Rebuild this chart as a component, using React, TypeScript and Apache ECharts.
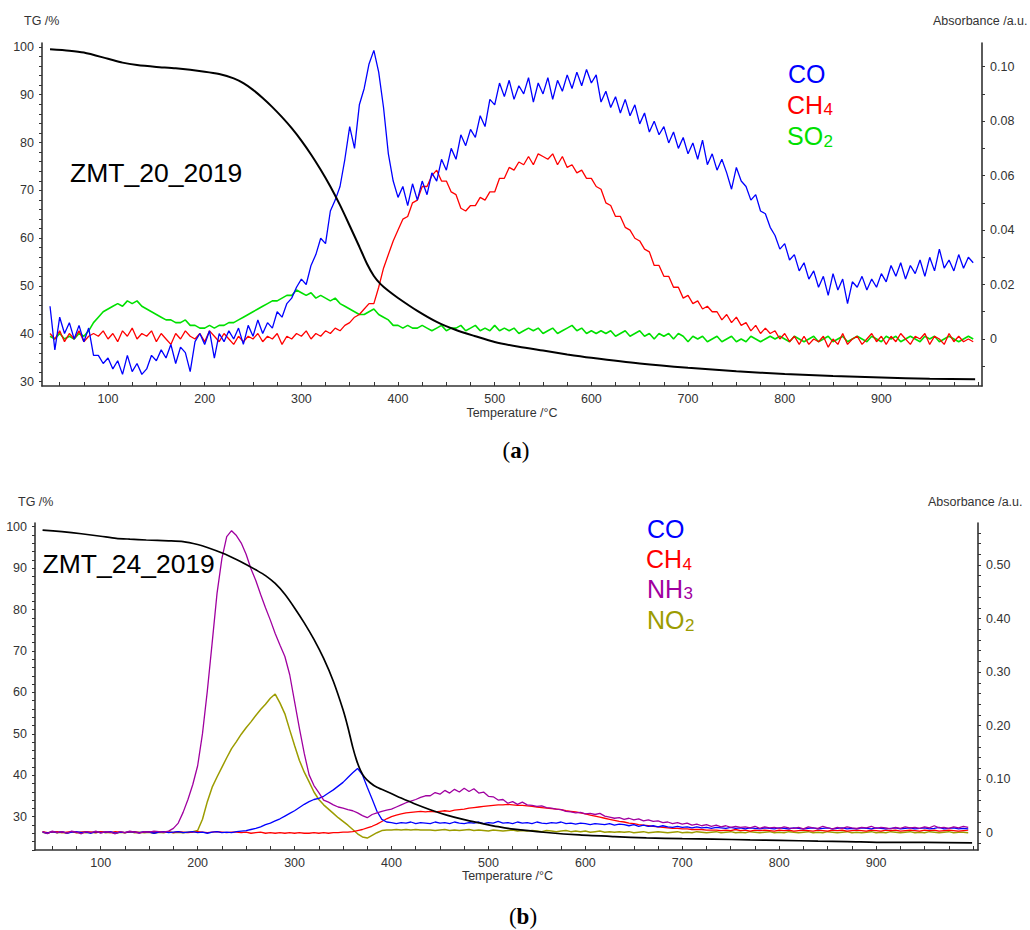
import React, { useEffect, useRef } from "react";
import * as echarts from "echarts";

// ---------- shared temperature grid (°C) ----------
const temps = [
  40, 45, 50, 55, 60, 65, 70, 75, 80, 85,
  90, 95, 100, 105, 110, 115, 120, 125, 130, 135,
  140, 145, 150, 155, 160, 165, 170, 175, 180, 185,
  190, 195, 200, 205, 210, 215, 220, 225, 230, 235,
  240, 245, 250, 255, 260, 265, 270, 275, 280, 285,
  290, 295, 300, 305, 310, 315, 320, 325, 330, 335,
  340, 345, 350, 355, 360, 365, 370, 375, 380, 385,
  390, 395, 400, 405, 410, 415, 420, 425, 430, 435,
  440, 445, 450, 455, 460, 465, 470, 475, 480, 485,
  490, 495, 500, 505, 510, 515, 520, 525, 530, 535,
  540, 545, 550, 555, 560, 565, 570, 575, 580, 585,
  590, 595, 600, 605, 610, 615, 620, 625, 630, 635,
  640, 645, 650, 655, 660, 665, 670, 675, 680, 685,
  690, 695, 700, 705, 710, 715, 720, 725, 730, 735,
  740, 745, 750, 755, 760, 765, 770, 775, 780, 785,
  790, 795, 800, 805, 810, 815, 820, 825, 830, 835,
  840, 845, 850, 855, 860, 865, 870, 875, 880, 885,
  890, 895, 900, 905, 910, 915, 920, 925, 930, 935,
  940, 945, 950, 955, 960, 965, 970, 975, 980, 985,
  990, 995,
];

// ---------- panel (a) ZMT_20_2019 ----------
const tgA = [
  [40, 99.5], [60, 99.2], [75, 98.8], [100, 97.5], [115, 96.7], [130, 96.2], [150, 95.8],
  [170, 95.5], [200, 94.8], [215, 94.3], [230, 93.4], [240, 92.4], [250, 91.0], [260, 89.3],
  [270, 87.4], [280, 85.3], [290, 83.0], [300, 80.4], [310, 77.5], [320, 74.3], [330, 70.8],
  [340, 66.9], [350, 62.6], [360, 58.2], [368, 54.6], [375, 52.1], [382, 50.4], [390, 49.0],
  [400, 47.5], [420, 44.8], [440, 42.5], [460, 40.8], [480, 39.5], [500, 38.3], [525, 37.3],
  [550, 36.5], [575, 35.7], [600, 35.0], [650, 33.8], [700, 32.9], [750, 32.2], [800, 31.6],
  [850, 31.2], [900, 30.9], [950, 30.6], [997, 30.5],
];

const coA = [
  0.012, -0.004, 0.008, 0.002, 0.006, 0.000, 0.005, -0.001, 0.004, -0.006,
  -0.006, -0.009, -0.007, -0.011, -0.008, -0.013, -0.006, -0.012, -0.009, -0.013,
  -0.011, -0.006, -0.008, -0.004, -0.007, -0.002, -0.009, -0.003, -0.005, -0.012,
  -0.001, 0.002, -0.002, 0.003, -0.007, 0.002, -0.001, 0.003, 0.000, 0.004,
  -0.002, 0.005, 0.001, 0.007, 0.002, 0.006, 0.004, 0.010, 0.008, 0.013,
  0.015, 0.019, 0.022, 0.020, 0.027, 0.031, 0.037, 0.035, 0.047, 0.051,
  0.056, 0.066, 0.078, 0.070, 0.086, 0.092, 0.101, 0.106, 0.098, 0.085,
  0.068, 0.058, 0.052, 0.056, 0.049, 0.057, 0.051, 0.058, 0.053, 0.061,
  0.058, 0.066, 0.062, 0.070, 0.066, 0.075, 0.071, 0.077, 0.074, 0.082,
  0.078, 0.088, 0.086, 0.094, 0.089, 0.095, 0.088, 0.093, 0.090, 0.096,
  0.087, 0.094, 0.090, 0.096, 0.088, 0.095, 0.091, 0.097, 0.092, 0.098,
  0.093, 0.099, 0.094, 0.097, 0.087, 0.091, 0.085, 0.089, 0.083, 0.088,
  0.082, 0.086, 0.079, 0.083, 0.076, 0.080, 0.075, 0.078, 0.072, 0.076,
  0.070, 0.074, 0.068, 0.072, 0.066, 0.073, 0.064, 0.068, 0.062, 0.066,
  0.061, 0.055, 0.063, 0.058, 0.056, 0.051, 0.053, 0.047, 0.046, 0.041,
  0.038, 0.033, 0.035, 0.029, 0.031, 0.025, 0.028, 0.022, 0.025, 0.019,
  0.023, 0.016, 0.024, 0.018, 0.022, 0.013, 0.021, 0.019, 0.023, 0.018,
  0.022, 0.019, 0.024, 0.021, 0.027, 0.023, 0.028, 0.022, 0.027, 0.024,
  0.029, 0.023, 0.030, 0.025, 0.033, 0.026, 0.029, 0.025, 0.031, 0.026,
  0.030, 0.028,
];

const ch4A = [
  0.002, 0.000, 0.003, -0.001, 0.002, 0.000, 0.003, -0.001, 0.001, 0.002,
  0.001, 0.003, 0.000, 0.002, -0.001, 0.003, 0.001, 0.004, 0.000, 0.002,
  0.001, 0.003, -0.001, 0.002, 0.000, -0.002, 0.002, 0.000, 0.003, 0.001,
  0.000, 0.002, -0.001, 0.003, 0.001, -0.001, 0.002, 0.000, -0.002, 0.001,
  -0.001, 0.001, 0.000, 0.002, -0.001, 0.001, 0.000, 0.002, -0.002, 0.001,
  0.000, 0.002, 0.001, 0.003, 0.000, 0.002, 0.001, 0.003, 0.002, 0.004,
  0.003, 0.005, 0.006, 0.008, 0.009, 0.011, 0.013, 0.013, 0.019, 0.026,
  0.031, 0.036, 0.040, 0.044, 0.045, 0.050, 0.051, 0.056, 0.056, 0.060,
  0.062, 0.058, 0.058, 0.054, 0.053, 0.048, 0.047, 0.049, 0.049, 0.052,
  0.051, 0.054, 0.054, 0.059, 0.059, 0.063, 0.062, 0.065, 0.064, 0.067,
  0.064, 0.068, 0.067, 0.066, 0.068, 0.064, 0.067, 0.063, 0.064, 0.061,
  0.062, 0.059, 0.059, 0.056, 0.055, 0.050, 0.049, 0.045, 0.045, 0.041,
  0.040, 0.037, 0.036, 0.033, 0.032, 0.027, 0.027, 0.023, 0.023, 0.019,
  0.019, 0.015, 0.016, 0.013, 0.014, 0.011, 0.012, 0.010, 0.010, 0.007,
  0.009, 0.006, 0.008, 0.005, 0.006, 0.003, 0.005, 0.002, 0.004, 0.002,
  0.003, 0.000, 0.002, -0.001, 0.001, -0.002, 0.001, -0.002, 0.000, -0.001,
  0.001, -0.003, 0.000, -0.002, 0.002, -0.002, 0.000, 0.001, -0.002, 0.000,
  0.002, -0.001, 0.001, -0.002, 0.001, -0.001, 0.002, 0.000, -0.002, 0.001,
  0.000, 0.002, -0.002, 0.001, 0.000, -0.002, 0.002, -0.001, 0.001, -0.001,
  0.000, -0.001,
];

const so2A = [
  0.001, 0.000, 0.002, 0.000, 0.001, 0.000, 0.002, 0.001, 0.003, 0.006,
  0.008, 0.010, 0.011, 0.012, 0.013, 0.012, 0.014, 0.013, 0.014, 0.012,
  0.011, 0.010, 0.009, 0.008, 0.007, 0.007, 0.006, 0.006, 0.007, 0.005,
  0.005, 0.004, 0.004, 0.005, 0.004, 0.005, 0.005, 0.006, 0.006, 0.007,
  0.008, 0.009, 0.010, 0.011, 0.012, 0.013, 0.014, 0.014, 0.015, 0.016,
  0.016, 0.018, 0.017, 0.016, 0.017, 0.015, 0.016, 0.015, 0.014, 0.015,
  0.013, 0.012, 0.011, 0.010, 0.009, 0.009, 0.010, 0.011, 0.009, 0.008,
  0.007, 0.005, 0.005, 0.004, 0.005, 0.004, 0.004, 0.005, 0.004, 0.003,
  0.004, 0.005, 0.003, 0.004, 0.004, 0.005, 0.003, 0.004, 0.005, 0.003,
  0.004, 0.003, 0.005, 0.003, 0.004, 0.003, 0.004, 0.002, 0.003, 0.004,
  0.003, 0.004, 0.002, 0.003, 0.004, 0.002, 0.003, 0.004, 0.005, 0.003,
  0.004, 0.002, 0.003, 0.002, 0.003, 0.002, 0.003, 0.001, 0.002, 0.003,
  0.001, 0.002, 0.003, 0.001, 0.002, 0.000, 0.002, 0.001, 0.002, 0.000,
  0.002, 0.001, -0.001, 0.001, 0.000, 0.001, -0.001, 0.000, 0.001, -0.001,
  0.000, 0.001, -0.001, 0.000, -0.001, 0.001, 0.000, -0.001, 0.000, 0.001,
  0.000, 0.001, 0.000, -0.001, 0.001, 0.000, -0.001, 0.000, 0.001, -0.001,
  0.000, 0.001, -0.001, 0.000, 0.001, -0.001, 0.000, 0.001, 0.000, -0.001,
  0.001, 0.000, -0.001, 0.001, 0.000, 0.001, -0.001, 0.000, 0.001, 0.000,
  -0.001, 0.001, 0.000, 0.001, -0.001, 0.000, 0.001, 0.000, -0.001, 0.000,
  0.001, 0.000,
];

// ---------- panel (b) ZMT_24_2019 ----------
const tgB = [
  [40, 99.2], [60, 98.8], [80, 98.3], [100, 97.7], [116, 97.2], [130, 97.0], [147, 96.8],
  [170, 96.6], [185, 96.4], [200, 95.7], [210, 95.0], [226, 93.6], [240, 92.1], [250, 90.9],
  [260, 89.6], [270, 88.2], [280, 86.3], [290, 83.7], [300, 80.4], [310, 76.8], [320, 72.8],
  [330, 68.2], [340, 62.7], [350, 55.8], [355, 51.6], [360, 46.8], [364, 43.6], [368, 41.2],
  [372, 39.6], [378, 38.2], [385, 37.1], [398, 35.8], [410, 34.5], [423, 33.2], [440, 31.7],
  [457, 30.4], [475, 29.3], [491, 28.5], [510, 27.6], [526, 27.0], [560, 26.2], [594, 25.6],
  [630, 25.2], [663, 24.9], [700, 24.7], [732, 24.6], [770, 24.4], [801, 24.3], [840, 24.1],
  [870, 24.0], [911, 23.8], [950, 23.8], [999, 23.7],
];

const coB = [
  0.001, -0.001, 0.002, 0.000, 0.002, -0.001, 0.001, 0.002, 0.000, 0.001,
  -0.001, 0.002, 0.000, 0.001, 0.002, -0.001, 0.001, 0.000, 0.002, 0.001,
  0.000, 0.002, 0.001, -0.001, 0.001, 0.002, 0.000, 0.001, 0.002, 0.000,
  0.001, 0.002, 0.000, 0.001, -0.001, 0.001, 0.002, 0.000, 0.001, 0.000,
  0.002, 0.003, 0.004, 0.006, 0.008, 0.011, 0.015, 0.018, 0.022, 0.026,
  0.031, 0.036, 0.041, 0.047, 0.053, 0.058, 0.062, 0.064, 0.068, 0.074,
  0.080, 0.087, 0.094, 0.103, 0.112, 0.120, 0.108, 0.085, 0.063, 0.040,
  0.025, 0.020, 0.019, 0.017, 0.019, 0.018, 0.020, 0.017, 0.019, 0.018,
  0.017, 0.020, 0.018, 0.019, 0.017, 0.020, 0.018, 0.017, 0.019, 0.018,
  0.020, 0.017, 0.019, 0.018, 0.021, 0.018, 0.019, 0.017, 0.020, 0.018,
  0.019, 0.017, 0.020, 0.018, 0.017, 0.019, 0.018, 0.020, 0.017, 0.018,
  0.016, 0.018, 0.017, 0.015, 0.017, 0.016, 0.015, 0.017, 0.014, 0.016,
  0.015, 0.013, 0.015, 0.012, 0.014, 0.012, 0.013, 0.011, 0.013, 0.011,
  0.010, 0.012, 0.010, 0.011, 0.009, 0.011, 0.009, 0.010, 0.008, 0.010,
  0.009, 0.008, 0.010, 0.008, 0.009, 0.007, 0.009, 0.008, 0.007, 0.009,
  0.008, 0.007, 0.009, 0.008, 0.007, 0.009, 0.008, 0.007, 0.008, 0.009,
  0.007, 0.008, 0.009, 0.007, 0.008, 0.009, 0.007, 0.008, 0.007, 0.009,
  0.008, 0.007, 0.009, 0.008, 0.007, 0.008, 0.009, 0.007, 0.008, 0.009,
  0.007, 0.008, 0.009, 0.007, 0.008, 0.010, 0.007, 0.008, 0.009, 0.007,
  0.008, 0.007,
];

const ch4B = [
  0.002, 0.000, 0.001, 0.002, 0.000, 0.001, 0.002, 0.000, 0.001, 0.002,
  0.001, 0.000, 0.002, 0.001, 0.000, 0.002, 0.001, 0.000, 0.001, 0.002,
  0.000, 0.001, 0.002, 0.000, 0.001, 0.002, 0.001, 0.000, 0.002, 0.001,
  0.000, 0.001, 0.002, 0.001, 0.000, 0.001, 0.002, 0.001, 0.000, 0.001,
  0.001, 0.000, 0.001, -0.001, 0.000, 0.001, -0.001, 0.000, -0.001, 0.000,
  -0.001, 0.000, -0.001, 0.000, -0.001, -0.001, 0.000, -0.001, 0.000, -0.001,
  0.000, 0.000, 0.001, 0.001, 0.002, 0.004, 0.006, 0.009, 0.012, 0.016,
  0.021, 0.026, 0.030, 0.033, 0.035, 0.037, 0.038, 0.039, 0.040, 0.039,
  0.040, 0.039, 0.040, 0.041, 0.040, 0.042, 0.043, 0.044, 0.046, 0.047,
  0.048, 0.049, 0.050, 0.051, 0.052, 0.052, 0.053, 0.052, 0.051, 0.051,
  0.050, 0.049, 0.048, 0.047, 0.046, 0.045, 0.044, 0.043, 0.041, 0.040,
  0.039, 0.037, 0.035, 0.033, 0.031, 0.029, 0.027, 0.025, 0.023, 0.021,
  0.020, 0.018, 0.017, 0.015, 0.014, 0.013, 0.012, 0.011, 0.010, 0.009,
  0.008, 0.008, 0.007, 0.007, 0.006, 0.006, 0.006, 0.005, 0.005, 0.005,
  0.004, 0.005, 0.004, 0.006, 0.004, 0.005, 0.003, 0.005, 0.004, 0.005,
  0.004, 0.003, 0.005, 0.004, 0.005, 0.003, 0.004, 0.005, 0.004, 0.003,
  0.005, 0.004, 0.003, 0.005, 0.004, 0.005, 0.003, 0.004, 0.005, 0.004,
  0.003, 0.005, 0.004, 0.003, 0.005, 0.004, 0.005, 0.003, 0.004, 0.005,
  0.004, 0.003, 0.005, 0.004, 0.005, 0.003, 0.004, 0.005, 0.004, 0.003,
  0.004, 0.005,
];

const nh3B = [
  0.002, -0.002, 0.003, 0.000, 0.002, -0.001, 0.003, 0.001, -0.002, 0.002,
  0.000, 0.003, -0.001, 0.002, 0.001, -0.002, 0.002, 0.000, 0.003, 0.001,
  -0.001, 0.002, 0.001, 0.003, 0.002, 0.001, 0.003, 0.008, 0.018, 0.038,
  0.062, 0.090, 0.125, 0.185, 0.265, 0.355, 0.447, 0.512, 0.553, 0.564,
  0.555, 0.541, 0.520, 0.493, 0.471, 0.445, 0.420, 0.397, 0.372, 0.350,
  0.329, 0.295, 0.245, 0.195, 0.148, 0.108, 0.088, 0.075, 0.061, 0.057,
  0.052, 0.048, 0.046, 0.043, 0.041, 0.037, 0.032, 0.028, 0.034, 0.037,
  0.040, 0.042, 0.044, 0.048, 0.052, 0.056, 0.059, 0.062, 0.066, 0.069,
  0.069, 0.075, 0.072, 0.079, 0.074, 0.081, 0.076, 0.083, 0.077, 0.082,
  0.074, 0.076, 0.068, 0.067, 0.061, 0.062, 0.055, 0.058, 0.053, 0.057,
  0.052, 0.051, 0.049, 0.050, 0.047, 0.046, 0.044, 0.043, 0.040, 0.039,
  0.037, 0.038, 0.035, 0.036, 0.034, 0.036, 0.031, 0.029, 0.027, 0.028,
  0.025, 0.027, 0.024, 0.026, 0.022, 0.024, 0.021, 0.022, 0.019, 0.020,
  0.017, 0.019, 0.016, 0.018, 0.014, 0.016, 0.013, 0.015, 0.012, 0.014,
  0.011, 0.013, 0.010, 0.012, 0.010, 0.011, 0.009, 0.012, 0.008, 0.011,
  0.009, 0.010, 0.008, 0.011, 0.009, 0.008, 0.010, 0.007, 0.011, 0.009,
  0.008, 0.012, 0.009, 0.007, 0.010, 0.008, 0.011, 0.009, 0.008, 0.010,
  0.009, 0.012, 0.008, 0.010, 0.009, 0.007, 0.010, 0.008, 0.011, 0.009,
  0.010, 0.008, 0.011, 0.009, 0.013, 0.009, 0.010, 0.008, 0.011, 0.009,
  0.012, 0.010,
];

const no2B = [
  0.001, -0.001, 0.002, 0.000, 0.001, -0.001, 0.002, 0.000, 0.001, 0.000,
  0.001, 0.000, 0.002, 0.000, 0.001, -0.001, 0.001, 0.000, 0.002, 0.000,
  0.001, 0.000, 0.001, -0.001, 0.001, 0.000, 0.002, 0.000, 0.001, 0.000,
  0.001, 0.002, 0.004, 0.025, 0.058, 0.085, 0.104, 0.122, 0.140, 0.157,
  0.170, 0.184, 0.196, 0.207, 0.219, 0.230, 0.240, 0.251, 0.259, 0.242,
  0.222, 0.192, 0.163, 0.135, 0.113, 0.095, 0.076, 0.062, 0.052, 0.044,
  0.036, 0.028, 0.021, 0.014, 0.006, -0.002, -0.008, -0.010, -0.005, 0.000,
  0.004, 0.005, 0.005, 0.006, 0.005, 0.006, 0.005, 0.006, 0.005, 0.005,
  0.005, 0.004, 0.005, 0.006, 0.004, 0.005, 0.004, 0.005, 0.006, 0.004,
  0.005, 0.004, 0.003, 0.005, 0.004, 0.003, 0.004, 0.005, 0.003, 0.004,
  0.003, 0.004, 0.003, 0.002, 0.004, 0.003, 0.002, 0.003, 0.004, 0.002,
  0.003, 0.002, 0.003, 0.001, 0.002, 0.003, 0.001, 0.002, 0.001, 0.002,
  0.001, 0.002, 0.000, 0.001, 0.002, 0.000, 0.001, 0.002, 0.001, 0.000,
  0.001, 0.002, 0.000, 0.001, 0.000, 0.002, 0.001, 0.000, 0.001, 0.002,
  0.000, 0.001, 0.002, 0.000, 0.001, 0.000, 0.002, 0.001, 0.000, 0.001,
  0.002, 0.000, 0.001, 0.000, 0.002, 0.001, 0.000, 0.001, 0.002, 0.000,
  0.001, 0.000, 0.002, 0.001, 0.000, 0.001, 0.002, 0.000, 0.001, 0.000,
  0.001, 0.002, 0.000, 0.001, 0.000, 0.002, 0.001, 0.000, 0.001, 0.002,
  0.000, 0.001, 0.000, 0.002, 0.001, 0.000, 0.001, 0.002, 0.000, 0.001,
  0.001, 0.000,
];

// ---------- ticks & labels ----------
const xTickValues = [
  50, 75, 100, 125, 150, 175, 200, 225, 250, 275, 300, 325, 350, 375, 400, 425, 450, 475,
  500, 525, 550, 575, 600, 625, 650, 675, 700, 725, 750, 775, 800, 825, 850, 875, 900, 925,
  950, 975, 1000,
];
const xLabelValues = [100, 200, 300, 400, 500, 600, 700, 800, 900];

const tgTicksA = [
  30, 32, 34, 36, 38, 40, 42, 44, 46, 48, 50, 52, 54, 56, 58, 60, 62, 64, 66, 68, 70, 72, 74,
  76, 78, 80, 82, 84, 86, 88, 90, 92, 94, 96, 98, 100,
];
const tgLabelsA = [30, 40, 50, 60, 70, 80, 90, 100];
const absTicksA = [-0.01, 0, 0.01, 0.02, 0.03, 0.04, 0.05, 0.06, 0.07, 0.08, 0.09, 0.1];
const absLabelsA = [0, 0.02, 0.04, 0.06, 0.08, 0.1];

const tgTicksB = [
  22, 24, 26, 28, 30, 32, 34, 36, 38, 40, 42, 44, 46, 48, 50, 52, 54, 56, 58, 60, 62, 64, 66,
  68, 70, 72, 74, 76, 78, 80, 82, 84, 86, 88, 90, 92, 94, 96, 98, 100,
];
const tgLabelsB = [30, 40, 50, 60, 70, 80, 90, 100];
const absTicksB = [
  -0.02, 0, 0.02, 0.04, 0.06, 0.08, 0.1, 0.12, 0.14, 0.16, 0.18, 0.2, 0.22, 0.24, 0.26, 0.28,
  0.3, 0.32, 0.34, 0.36, 0.38, 0.4, 0.42, 0.44, 0.46, 0.48, 0.5, 0.52, 0.54, 0.56,
];
const absLabelsB = [0, 0.1, 0.2, 0.3, 0.4, 0.5];

const SANS = "'Liberation Sans', Arial, Helvetica, sans-serif";
const SERIF = "'Liberation Serif', 'Times New Roman', serif";
const AXIS_COLOR = "#333";

const pairs = (xs: number[], ys: number[]) => xs.map((x, i) => [x, ys[i]]);
const absFmt = (v: number) => (v === 0 ? "0" : v.toFixed(2));

function xAxisDef(gridIndex: number, min: number, max: number) {
  return {
    type: "value",
    gridIndex,
    min,
    max,
    axisLine: { show: true, onZero: false, lineStyle: { color: AXIS_COLOR, width: 1.6 } },
    axisTick: { show: true, inside: true, length: 4, customValues: xTickValues, lineStyle: { color: AXIS_COLOR } },
    axisLabel: { customValues: xLabelValues, margin: 6, fontSize: 12.5, color: AXIS_COLOR, fontFamily: SANS },
    splitLine: { show: false },
  };
}

function yAxisDef(
  gridIndex: number,
  position: "left" | "right",
  min: number,
  max: number,
  ticks: number[],
  labels: number[],
  fmt?: (v: number) => string
) {
  return {
    type: "value",
    gridIndex,
    position,
    min,
    max,
    axisLine: { show: true, onZero: false, lineStyle: { color: AXIS_COLOR, width: 1.6 } },
    axisTick: { show: true, length: 3, customValues: ticks, lineStyle: { color: AXIS_COLOR } },
    axisLabel: {
      customValues: labels,
      margin: 8,
      fontSize: 12.5,
      color: AXIS_COLOR,
      fontFamily: SANS,
      formatter: fmt,
    },
    splitLine: { show: false },
  };
}

function txt(text: string, x: number, y: number, size: number, fill: string, align = "left", family = SANS) {
  return {
    type: "text",
    x,
    y,
    z: 100,
    style: { text, fontSize: size, fontFamily: family, fill, align, verticalAlign: "middle" },
  };
}

function gasLine(name: string, color: string, xAxisIndex: number, yAxisIndex: number, ys: number[], width = 1.3) {
  return {
    name,
    type: "line",
    xAxisIndex,
    yAxisIndex,
    data: pairs(temps, ys),
    showSymbol: false,
    symbol: "none",
    lineStyle: { color, width },
    itemStyle: { color },
  };
}

function tgLine(name: string, xAxisIndex: number, yAxisIndex: number, data: number[][], width: number) {
  return {
    name,
    type: "line",
    xAxisIndex,
    yAxisIndex,
    data,
    smooth: 0.25,
    showSymbol: false,
    symbol: "none",
    lineStyle: { color: "#000", width },
  };
}

const BLUE = "#0000ff";
const RED = "#ff0000";
const GREEN = "#00e000";
const PURPLE = "#a000a0";
const OLIVE = "#9c9c00";

export default function App() {
  const ref = useRef<HTMLDivElement>(null);
  useEffect(() => {
    document.body.style.margin = "0";
    const chart = echarts.init(ref.current as HTMLDivElement, null, { renderer: "svg" });
    const option = {
      animation: false,
      backgroundColor: "#ffffff",
      grid: [
        { left: 42, top: 43, width: 940, height: 343, containLabel: false },
        { left: 35, top: 523, width: 943, height: 327, containLabel: false },
      ],
      xAxis: [xAxisDef(0, 31.7, 1004.1), xAxisDef(1, 32.2, 1005.1)],
      yAxis: [
        yAxisDef(0, "left", 29.1, 100.8, tgTicksA, tgLabelsA),
        yAxisDef(0, "right", -0.01727, 0.1087, absTicksA, absLabelsA, absFmt),
        yAxisDef(1, "left", 21.97, 100.9, tgTicksB, tgLabelsB),
        yAxisDef(1, "right", -0.0323, 0.5784, absTicksB, absLabelsB, absFmt),
      ],
      series: [
        gasLine("SO2", GREEN, 0, 1, so2A, 1.6),
        gasLine("CH4", RED, 0, 1, ch4A),
        gasLine("CO", BLUE, 0, 1, coA),
        tgLine("TG a", 0, 0, tgA, 2),
        gasLine("NO2", OLIVE, 1, 3, no2B, 1.5),
        gasLine("CH4 b", RED, 1, 3, ch4B),
        gasLine("CO b", BLUE, 1, 3, coB),
        gasLine("NH3", PURPLE, 1, 3, nh3B),
        tgLine("TG b", 1, 2, tgB, 1.7),
      ],
      graphic: [
        // panel (a) titles
        txt("TG /%", 24, 21, 12.5, AXIS_COLOR),
        txt("Absorbance /a.u.", 933, 21, 12.5, AXIS_COLOR),
        txt("Temperature /°C", 512, 413, 12.5, AXIS_COLOR, "center"),
        txt("ZMT_20_2019", 70, 172.5, 26.5, "#000"),
        txt("CO", 788, 74, 25, BLUE),
        txt("CH", 787, 104.5, 25, RED),
        txt("4", 823.5, 109.5, 17, RED),
        txt("SO", 787, 135.5, 25, GREEN),
        txt("2", 823.5, 141, 17, GREEN),
        {
          type: "text",
          x: 516,
          y: 450,
          z: 100,
          style: {
            text: "{p|(}{b|a}{p|)}",
            align: "center",
            verticalAlign: "middle",
            rich: {
              p: { fontSize: 23, fontFamily: SERIF, fill: "#000" },
              b: { fontSize: 23, fontFamily: SERIF, fontWeight: "bold", fill: "#000" },
            },
          },
        },
        // panel (b) titles
        txt("TG /%", 18, 502, 12.5, AXIS_COLOR),
        txt("Absorbance /a.u.", 928, 502, 12.5, AXIS_COLOR),
        txt("Temperature /°C", 507.5, 876, 12.5, AXIS_COLOR, "center"),
        txt("ZMT_24_2019", 42.5, 564, 26.5, "#000"),
        txt("CO", 647, 529, 25, BLUE),
        txt("CH", 646, 559, 25, RED),
        txt("4", 682.5, 564, 17, RED),
        txt("NH", 647, 588.5, 25, PURPLE),
        txt("3", 683.5, 593.5, 17, PURPLE),
        txt("NO", 647, 620, 25, OLIVE),
        txt("2", 685, 625, 17, OLIVE),
        {
          type: "text",
          x: 523,
          y: 916,
          z: 100,
          style: {
            text: "{p|(}{b|b}{p|)}",
            align: "center",
            verticalAlign: "middle",
            rich: {
              p: { fontSize: 23, fontFamily: SERIF, fill: "#000" },
              b: { fontSize: 23, fontFamily: SERIF, fontWeight: "bold", fill: "#000" },
            },
          },
        },
      ],
    };
    chart.setOption(option as any);
    return () => chart.dispose();
  }, []);
  return <div ref={ref} style={{ width: 1030, height: 930 }} />;
}
